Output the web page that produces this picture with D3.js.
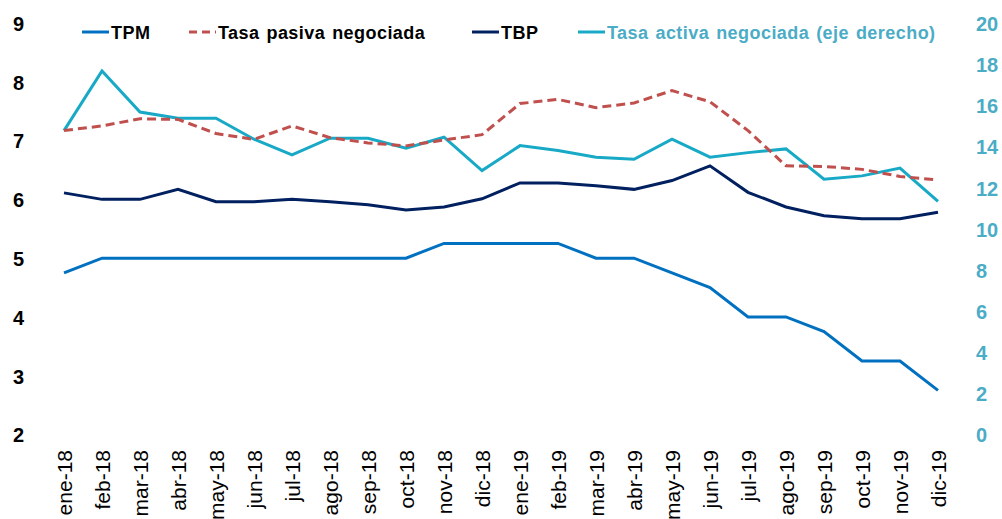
<!DOCTYPE html>
<html><head><meta charset="utf-8">
<script src="https://cdn.jsdelivr.net/npm/d3@7"></script>
<style>body{margin:0;background:#fff}svg{display:block;font-family:"Liberation Sans",Arial,sans-serif}</style>
</head><body>
<svg id="c" width="1002" height="519"></svg>
<script>
const months = ["ene-18","feb-18","mar-18","abr-18","may-18","jun-18","jul-18","ago-18","sep-18","oct-18","nov-18","dic-18",
"ene-19","feb-19","mar-19","abr-19","may-19","jun-19","jul-19","ago-19","sep-19","oct-19","nov-19","dic-19"];
const tpm = [4.75,5,5,5,5,5,5,5,5,5,5.25,5.25,5.25,5.25,5,5,4.75,4.5,4,4,3.75,3.25,3.25,2.75];
const pasiva = [7.17,7.25,7.37,7.36,7.12,7.02,7.25,7.05,6.96,6.91,7.01,7.1,7.63,7.7,7.56,7.64,7.85,7.66,7.17,6.57,6.56,6.51,6.39,6.33];
const tbp = [6.11,6.0,6.0,6.17,5.96,5.96,6.0,5.96,5.91,5.82,5.87,6.01,6.28,6.28,6.23,6.17,6.32,6.57,6.12,5.87,5.72,5.67,5.67,5.78];
const activa = [14.77,17.67,15.67,15.37,15.37,14.35,13.59,14.4,14.4,13.92,14.45,12.83,14.04,13.8,13.48,13.38,14.35,13.48,13.7,13.88,12.41,12.57,12.95,11.33];
const leftTicks = [2,3,4,5,6,7,8,9];
const rightTicks = [0,2,4,6,8,10,12,14,16,18,20];

const svg = d3.select("#c");
const x = d3.scalePoint().domain(months).range([64,938]);
const yL = d3.scaleLinear().domain([2,9]).range([434.5,23]);
const yR = d3.scaleLinear().domain([0,20]).range([434.5,23]);

const C = {tpm:"#0070C0", pasiva:"#C0504D", tbp:"#002060", activa:"#17A9C6", axisR:"#4BACC6"};

// left axis
const gL = svg.append("g").attr("transform","translate(13,1)")
  .call(d3.axisLeft(yL).tickValues(leftTicks).tickSize(0).tickPadding(0).tickFormat(d3.format("d")));
gL.select(".domain").remove();
gL.selectAll("text").attr("text-anchor","start").attr("font-size",20).attr("font-weight","bold").attr("fill","#000").attr("font-family","Liberation Sans, Arial");
// right axis
const gR = svg.append("g").attr("transform","translate(976,1)")
  .call(d3.axisRight(yR).tickValues(rightTicks).tickSize(0).tickPadding(0).tickFormat(d3.format("d")));
gR.select(".domain").remove();
gR.selectAll("text").attr("font-size",20).attr("font-weight","bold").attr("fill",C.axisR).attr("font-family","Liberation Sans, Arial");
// x axis
const gX = svg.append("g").attr("transform","translate(0,450)")
  .call(d3.axisBottom(x).tickSize(0).tickPadding(0));
gX.select(".domain").remove();
gX.selectAll("text").attr("font-size",21).attr("fill","#000").attr("font-family","Liberation Sans, Arial")
  .attr("text-anchor","end").attr("dy",null).attr("y",0).attr("x",0)
  .attr("transform","rotate(-90) translate(0,7)");

const line = (sc) => d3.line().x((d,i)=>x(months[i])).y(d=>sc(d));
svg.append("path").datum(activa).attr("d",line(yR)).attr("fill","none").attr("stroke",C.activa).attr("stroke-width",3);
svg.append("path").datum(tbp).attr("d",line(yL)).attr("fill","none").attr("stroke",C.tbp).attr("stroke-width",3);
svg.append("path").datum(tpm).attr("d",line(yL)).attr("fill","none").attr("stroke",C.tpm).attr("stroke-width",3);
svg.append("path").datum(pasiva).attr("d",line(yL)).attr("fill","none").attr("stroke",C.pasiva).attr("stroke-width",3).attr("stroke-dasharray","9,5");

// legend
const legend = [
  {name:"TPM", color:C.tpm, x:82, dash:null, tc:"#000"},
  {name:"Tasa pasiva negociada", color:C.pasiva, x:189, dash:"8,5", tc:"#000"},
  {name:"TBP", color:C.tbp, x:472, dash:null, tc:"#000"},
  {name:"Tasa activa negociada (eje derecho)", color:C.activa, x:578, dash:null, tc:C.axisR}
];
const lg = svg.append("g");
legend.forEach(l=>{
  lg.append("line").attr("x1",l.x).attr("x2",l.x+27).attr("y1",32).attr("y2",32)
    .attr("stroke",l.color).attr("stroke-width",3).attr("stroke-dasharray",l.dash);
  lg.append("text").attr("x",l.x+29).attr("y",38.5).attr("font-size",18).attr("font-weight","bold")
    .attr("letter-spacing",0.45).attr("word-spacing",1.5)
    .attr("fill",l.tc).text(l.name);
});
</script>
</body></html>
